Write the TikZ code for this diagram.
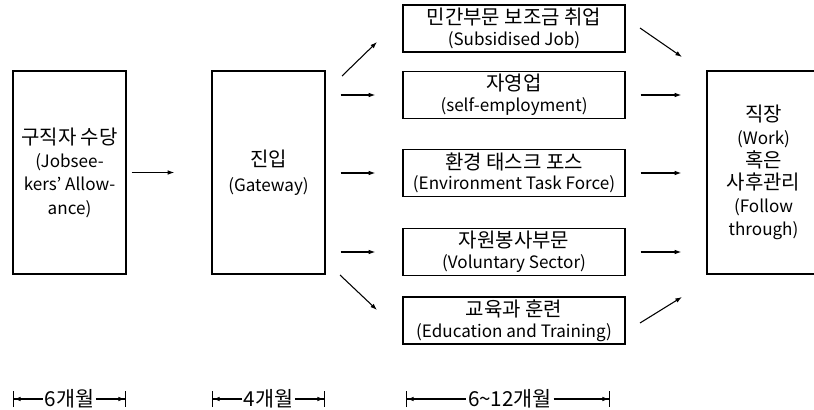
\documentclass[tikz,border=0pt]{standalone}
\usepackage{fontspec}
\setmainfont{Noto Sans CJK KR}
\usetikzlibrary{arrows.meta}
\newcommand{\kr}{\fontsize{15}{17}\selectfont}
\newcommand{\en}{\fontsize{12.8}{17}\selectfont}

\begin{document}
\begin{tikzpicture}[x=0.75pt,y=-0.75pt,
    box/.style={draw,line width=1pt,inner sep=0pt,align=center},
    tallbox/.style={box,minimum width=84.75pt,minimum height=152.25pt,font=\fontsize{12}{17.5}\selectfont},
    midbox/.style={box,minimum width=166.5pt,minimum height=35.25pt,font=\fontsize{12}{15.5}\selectfont},
    conn/.style={-{Latex[length=5pt,width=3.5pt]},line width=0.8pt},
    spanl/.style={{Bar[width=12pt]Latex[length=5pt,width=3.5pt]}-,line width=0.8pt},
    spanr/.style={-{Latex[length=5pt,width=3.5pt]Bar[width=12pt]},line width=0.8pt},
    tl/.style={inner sep=1pt,font=\fontsize{15.5}{17}\selectfont}]
\useasboundingbox (0,0) rectangle (814,410);

% stages
\node[tallbox] (jsa) at (69.5,172.5) {{\kr 구직자 수당}\\{\en (Jobsee-}\\{\en kers’ Allow-}\\{\en ance)}};
\node[tallbox,font=\fontsize{12}{19}\selectfont] (gw) at (268.5,172.5) {{\kr 진입}\\{\en (Gateway)}};
\node[midbox] (sj) at (514,28.5) {{\kr 민간부문 보조금 취업}\\{\en (Subsidised Job)}};
\node[midbox] (se) at (514,95) {{\kr 자영업}\\{\en (self-employment)}};
\node[midbox] (etf) at (514,173) {{\kr 환경 태스크 포스}\\{\en (Environment Task Force)}};
\node[midbox] (vs) at (514,252) {{\kr 자원봉사부문}\\{\en (Voluntary Sector)}};
\node[midbox] (et) at (514,320.5) {{\kr 교육과 훈련}\\{\en (Education and Training)}};
\node[tallbox,font=\fontsize{12}{17}\selectfont] (work) at (763.5,172.5) {{\kr 직장}\\{\en (Work)}\\{\kr 혹은}\\{\kr 사후관리}\\{\en (Follow}\\{\en through)}};

% arrows
\draw[conn,shorten <=3.75pt,shorten >=27.75pt] (jsa) -- (gw);
\coordinate (gwup) at (342,76);
\coordinate (sjin) at (377,42);
\coordinate (gwdn) at (340,275);
\coordinate (etin) at (377,310);
\draw[conn] (gwup) -- (sjin);
\draw[conn] (gwdn) -- (etin);
\foreach \b in {se,etf,vs}
  \draw[conn,shorten <=11.25pt,shorten >=20.25pt] (gw.east |- \b.west) -- (\b.west);
\coordinate (sjout) at (640,28);
\coordinate (wkup) at (682,57);
\coordinate (etout) at (640,323);
\coordinate (wkdn) at (682,297);
\draw[conn] (sjout) -- (wkup);
\draw[conn] (etout) -- (wkdn);
\foreach \b in {se,etf,vs}
  \draw[conn,shorten <=11.25pt,shorten >=18.75pt] (\b.east) -- (\b.east -| work.west);

% durations
\coordinate (t1a) at (13,399);
\coordinate (t1b) at (126,399);
\node[tl] (t1) at (69.5,399) {6개월};
\draw[spanl] (t1a) -- (t1.west);
\draw[spanr] (t1.east) -- (t1b);
\coordinate (t2a) at (212,399);
\coordinate (t2b) at (325,399);
\node[tl] (t2) at (268.5,399) {4개월};
\draw[spanl] (t2a) -- (t2.west);
\draw[spanr] (t2.east) -- (t2b);
\coordinate (t3a) at (406,399);
\coordinate (t3b) at (610,399);
\node[tl] (t3) at (510,399) {6\textasciitilde12개월};
\draw[spanl] (t3a) -- (t3.west);
\draw[spanr] (t3.east) -- (t3b);
\end{tikzpicture}
\end{document}
